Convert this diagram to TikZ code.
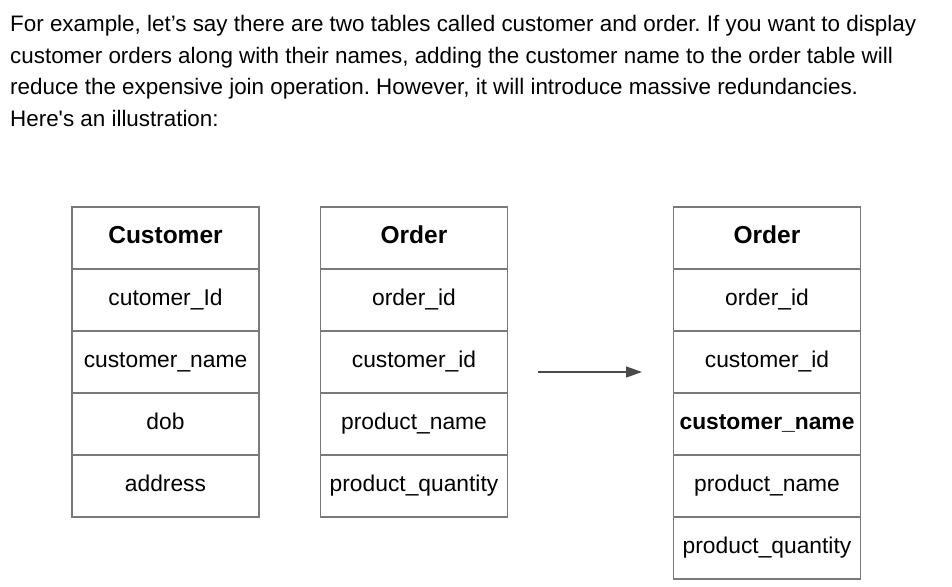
\documentclass[tikz,border=0pt]{standalone}
\usepackage{fontspec}
\setmainfont{Liberation Sans}
\usetikzlibrary{arrows.meta}
\definecolor{linegray}{HTML}{7A7A7A}
\definecolor{arrowgray}{HTML}{4A4A4A}
\frenchspacing
\begin{document}
\begin{tikzpicture}[x=1pt, y=-1pt,
	cell/.style={shape=rectangle, draw=linegray, line width=1.1pt, minimum width=187pt, minimum height=62pt, inner sep=0pt, text height=16pt, text depth=5pt, text=black, font=\fontsize{22.8}{26}\selectfont},
	head/.style={cell, font=\fontsize{24.5}{28}\selectfont\bfseries}]
	\useasboundingbox (0,0) rectangle (952,586);

	\node[anchor=base west, inner sep=0pt, align=left, text=black, font=\fontsize{22.4}{31.6}\selectfont] (intro) at (10,126.5)
		{For example, let’s say there are two tables called customer and order. If you want to display\\
		 customer orders along with their names, adding the customer name to the order table will\\
		 reduce the expensive join operation. However, it will introduce massive redundancies.\\
		 Here\textquotesingle s an illustration:};

	% customer table
	\node[head] (c0) at (165.5,238) {Customer};
	\node[cell] (c1) at (165.5,300) {cutomer\_Id};
	\node[cell] (c2) at (165.5,362) {customer\_name};
	\node[cell] (c3) at (165.5,424) {dob};
	\node[cell] (c4) at (165.5,486) {address};

	% order table
	\node[head] (o0) at (414,238) {Order};
	\node[cell] (o1) at (414,300) {order\_id};
	\node[cell] (o2) at (414,362) {customer\_id};
	\node[cell] (o3) at (414,424) {product\_name};
	\node[cell] (o4) at (414,486) {product\_quantity};

	% denormalized order table
	\node[head] (d0) at (767,238) {Order};
	\node[cell] (d1) at (767,300) {order\_id};
	\node[cell] (d2) at (767,362) {customer\_id};
	\node[cell, font=\fontsize{22.8}{26}\selectfont\bfseries] (d3) at (767,424) {customer\_name};
	\node[cell] (d4) at (767,486) {product\_name};
	\node[cell] (d5) at (767,548) {product\_quantity};

	\coordinate (from) at (538,372);
	\coordinate (to) at (642,372);
	\draw [-{Triangle[length=16pt,width=11pt]}, arrowgray, line width=1.1pt] (from) -- (to);
\end{tikzpicture}
\end{document}
